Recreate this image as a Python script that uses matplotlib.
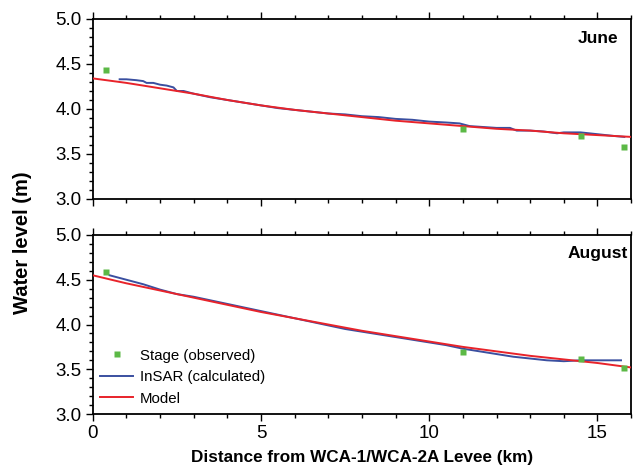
import matplotlib.pyplot as plt
from matplotlib.ticker import MultipleLocator

plt.rcParams['font.family'] = ['Liberation Sans', 'DejaVu Sans']

# stage gauges (observed)
stage_x = [0.4, 11.0, 14.5, 15.8]
stage_june = [4.43, 3.78, 3.70, 3.58]
stage_aug = [4.59, 3.69, 3.61, 3.51]

# model curves
model_x = [0, 1, 2, 3, 4, 5, 6, 7, 8, 9, 10, 11, 12, 13, 14, 15, 16]
model_june = [4.34, 4.29, 4.23, 4.17, 4.10, 4.04, 3.99, 3.95, 3.91, 3.87,
              3.84, 3.81, 3.78, 3.76, 3.73, 3.71, 3.69]
model_aug = [4.55, 4.46, 4.38, 4.30, 4.22, 4.14, 4.07, 4.00, 3.93, 3.87,
             3.81, 3.75, 3.70, 3.65, 3.61, 3.57, 3.52]

# InSAR profiles
insar_june_x = [0.8, 1.0, 1.3, 1.5, 1.6, 1.8, 2.0, 2.2, 2.4, 2.5, 2.7, 3.0,
                3.5, 4.0, 4.5, 5.0, 5.5, 6.0, 6.5, 7.0, 7.5, 8.0, 8.5, 9.0,
                9.5, 10.0, 10.5, 10.9, 11.2, 11.6, 12.0, 12.4, 12.6, 13.0,
                13.4, 13.8, 14.0, 14.5, 15.0, 15.5, 15.8]
insar_june = [4.33, 4.33, 4.32, 4.31, 4.29, 4.29, 4.27, 4.26, 4.24, 4.20,
              4.20, 4.17, 4.13, 4.10, 4.07, 4.04, 4.01, 3.99, 3.97, 3.95,
              3.94, 3.92, 3.91, 3.89, 3.88, 3.86, 3.85, 3.84, 3.81, 3.80,
              3.79, 3.79, 3.76, 3.76, 3.75, 3.73, 3.74, 3.74, 3.72, 3.70,
              3.69]
insar_aug_x = [0.5, 1.0, 1.5, 2.0, 2.5, 3.0, 3.5, 4.0, 4.5, 5.0, 5.5, 6.0,
               6.5, 7.0, 7.5, 8.0, 8.5, 9.0, 9.5, 10.0, 10.5, 11.0, 11.5,
               12.0, 12.5, 13.0, 13.5, 14.0, 14.5, 15.0, 15.7]
insar_aug = [4.55, 4.50, 4.45, 4.39, 4.34, 4.31, 4.27, 4.23, 4.19, 4.15,
             4.11, 4.07, 4.03, 3.99, 3.95, 3.92, 3.89, 3.86, 3.83, 3.80,
             3.77, 3.73, 3.70, 3.67, 3.64, 3.62, 3.60, 3.59, 3.60, 3.60,
             3.60]

green = '#5cb946'
blue = '#3a4fa0'
red = '#e8232a'

fig = plt.figure(figsize=(6.33, 4.70), dpi=100)
ax1 = fig.add_axes([0.1465, 0.5766, 0.8505, 0.383])
ax2 = fig.add_axes([0.1465, 0.1191, 0.8505, 0.3809])

panels = [(ax1, stage_june, model_june, insar_june_x, insar_june, 'June', 0.976, 0.894),
          (ax2, stage_aug, model_aug, insar_aug_x, insar_aug, 'August', 0.995, 0.894)]

for ax, stg, mdl, ix, iy, name, tx, ty in panels:
    ax.plot(ix, iy, color=blue, lw=1.4, label='InSAR (calculated)', zorder=2)
    ax.plot(model_x, mdl, color=red, lw=1.4, label='Model', zorder=3)
    ax.plot(stage_x, stg, 's', color=green, ms=5, mec='none',
            label='Stage (observed)', zorder=4)
    ax.set_xlim(0, 16)
    ax.set_ylim(3.0, 5.0)
    ax.xaxis.set_major_locator(MultipleLocator(5))
    ax.xaxis.set_minor_locator(MultipleLocator(1))
    ax.yaxis.set_major_locator(MultipleLocator(0.5))
    ax.yaxis.set_minor_locator(MultipleLocator(0.1))
    ax.yaxis.set_major_formatter(plt.FormatStrFormatter('%.1f'))
    ax.tick_params(which='both', direction='out', top=True, right=False,
                   labelsize=13.5, width=1.0, pad=3)
    ax.tick_params(which='major', length=5)
    ax.tick_params(which='minor', length=3)
    for s in ax.spines.values():
        s.set_linewidth(1.3)
    ax.text(tx, ty, name, transform=ax.transAxes, ha='right', va='center',
            fontsize=12.5, fontweight='bold')

ax1.tick_params(labelbottom=False)

h, l = ax2.get_legend_handles_labels()
order = [2, 0, 1]
ax2.legend([h[i] for i in order], [l[i] for i in order], loc='lower left',
           frameon=False, fontsize=10.8, handlelength=2.2, handletextpad=0.45,
           labelspacing=0.5, bbox_to_anchor=(-0.011, -0.028))

ax2.set_xlabel('Distance from WCA-1/WCA-2A Levee (km)', fontsize=12.3,
               fontweight='bold', labelpad=6)
fig.text(0.035, 0.483, 'Water level (m)', rotation=90, ha='center',
         va='center', fontsize=14.5, fontweight='bold')

fig.savefig('out.png', dpi=100)
